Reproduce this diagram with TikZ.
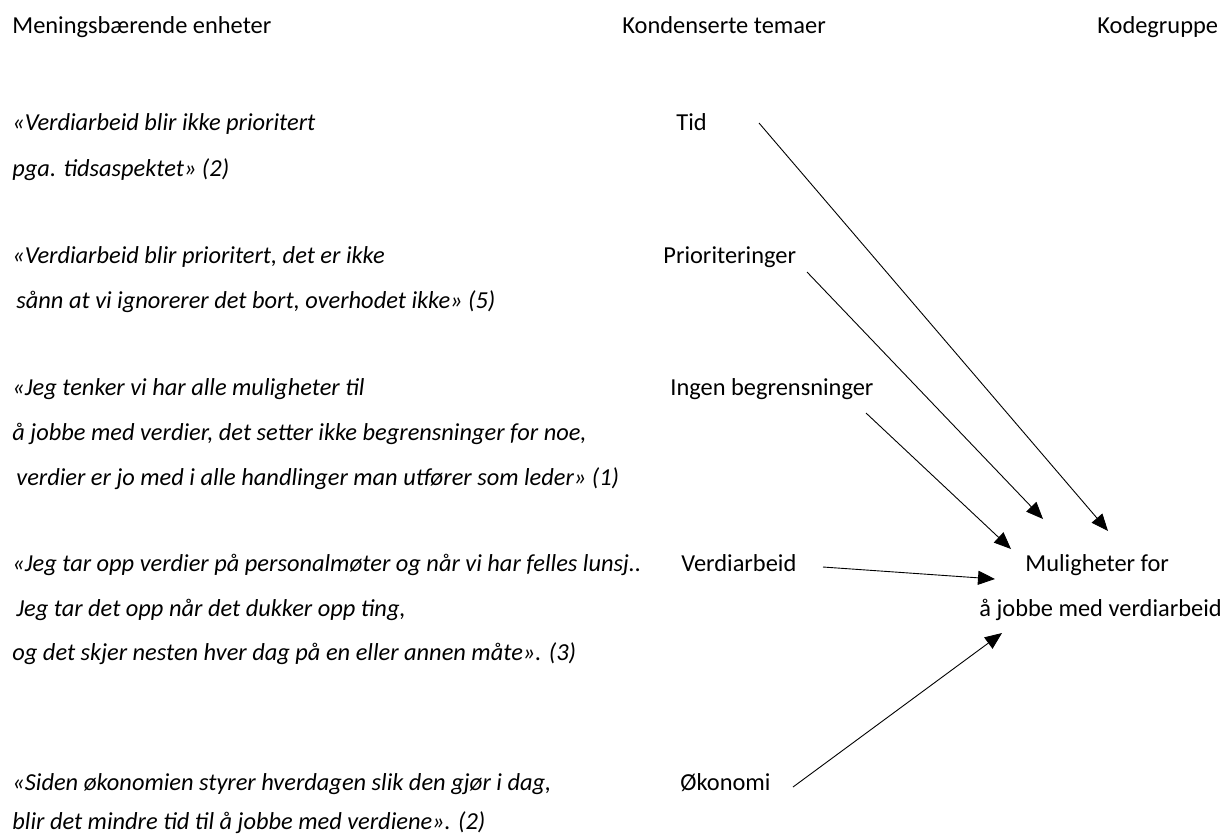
\documentclass[tikz,border=0pt]{standalone}
\usepackage{fontspec}
\setmainfont{Carlito}
\usetikzlibrary{arrows.meta}

\begin{document}
\begin{tikzpicture}[x=0.5pt, y=-0.5pt,
                    nodes={inner sep=0, anchor=base west, font=\fontsize{12.2}{14}\selectfont},
                    sitat/.style={font=\fontsize{12.2}{14}\selectfont\itshape},
                    pil/.style={-{Triangle[length=8.5pt, width=7pt]}, line width=0.45pt}]
                \useasboundingbox (0,0) rectangle (1230,837);

                % overskrifter
                \node (h1) at (12,33) {Meningsbærende enheter};
                \node (h2) at (622,33) {Kondenserte temaer};
                \node (h3) at (1097,33) {Kodegruppe};

                % meningsbaerende enheter
                \node[sitat] (s1a) at (12,130) {«Verdiarbeid blir ikke prioritert};
                \node[sitat] (s1b) at (12,176) {pga. tidsaspektet» (2)};
                \node[sitat] (s2a) at (12,263) {«Verdiarbeid blir prioritert, det er ikke};
                \node[sitat] (s2b) at (16,308) {sånn at vi ignorerer det bort, overhodet ikke» (5)};
                \node[sitat] (s3a) at (12,395) {«Jeg tenker vi har alle muligheter til};
                \node[sitat] (s3b) at (12,440) {å jobbe med verdier, det setter ikke begrensninger for noe,};
                \node[sitat] (s3c) at (16,485) {verdier er jo med i alle handlinger man utfører som leder» (1)};
                \node[sitat] (s4a) at (12,571) {«Jeg tar opp verdier på personalmøter og når vi har felles lunsj..};
                \node[sitat] (s4b) at (16,616) {Jeg tar det opp når det dukker opp ting,};
                \node[sitat] (s4c) at (12,660) {og det skjer nesten hver dag på en eller annen måte». (3)};
                \node[sitat] (s5a) at (12,790) {«Siden økonomien styrer hverdagen slik den gjør i dag,};
                \node[sitat] (s5b) at (12,829) {blir det mindre tid til å jobbe med verdiene». (2)};

                % kondenserte temaer
                \node (tid) at (676,130) {Tid};
                \node (prio) at (663,263) {Prioriteringer};
                \node (ingen) at (670,395) {Ingen begrensninger};
                \node (verdi) at (681,571) {Verdiarbeid};
                \node (okon) at (680,790) {Økonomi};

                % kodegruppe
                \node (mul1) at (1025,571) {Muligheter for};
                \node (mul2) at (979,616) {å jobbe med verdiarbeid};

                % piler inn mot kodegruppen
                \coordinate (tid-ut) at (759,123);
                \coordinate (prio-ut) at (807,272);
                \coordinate (ingen-ut) at (866,413);
                \coordinate (verdi-ut) at (823,567);
                \coordinate (okon-ut) at (793,787);
                \coordinate (mul-tid) at (1108,531);
                \coordinate (mul-prio) at (1043,519);
                \coordinate (mul-ingen) at (1011,549);
                \coordinate (mul-verdi) at (995,579);
                \coordinate (mul-okon) at (1002,633);
                \draw[pil] (tid-ut) -- (mul-tid);
                \draw[pil] (prio-ut) -- (mul-prio);
                \draw[pil] (ingen-ut) -- (mul-ingen);
                \draw[pil] (verdi-ut) -- (mul-verdi);
                \draw[pil] (okon-ut) -- (mul-okon);
            \end{tikzpicture}
\end{document}
